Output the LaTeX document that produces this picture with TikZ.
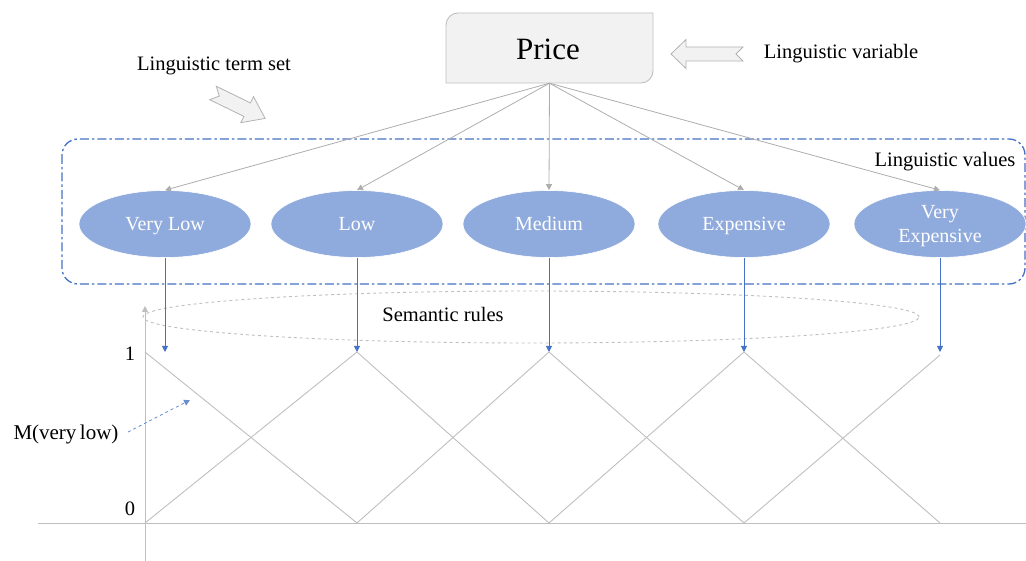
\documentclass[tikz,border=0pt]{standalone}
\usepackage{fontspec}
\setmainfont{Liberation Serif}
\usetikzlibrary{arrows.meta,shapes.geometric}
\definecolor{lgray}{HTML}{BFBFBF}
\definecolor{cgray}{HTML}{ADADAD}
\definecolor{boxfill}{HTML}{F2F2F2}
\definecolor{bblue}{HTML}{4472C4}
\definecolor{efill}{HTML}{8FAADC}
\tikzset{
  lbl/.style={font=\fontsize{20.5}{24}\selectfont, inner sep=0pt, anchor=base},
  valnode/.style={ellipse, fill=efill, draw=white, line width=0.6pt, minimum width=172pt, minimum height=67pt, inner sep=0pt, text=white, align=center, font=\fontsize{20}{24}\selectfont, text height=16pt, text depth=2pt},
  conn/.style={draw=cgray, line width=0.8pt, -{Triangle[length=6pt,width=6pt]}},
  bconn/.style={draw=bblue, line width=0.9pt, -{Triangle[length=6pt,width=6pt]}},
  curve/.style={draw=lgray, line width=0.9pt},
  blockarrow/.style={fill=boxfill, draw=lgray!80!gray, line width=0.8pt, line join=miter},
}
\begin{document}
\begin{tikzpicture}[x=1pt,y=-1pt]
\useasboundingbox (0,0) rectangle (1026,561);

% Price box (rounded top-left and bottom-right)
\node[minimum width=207pt, minimum height=70pt, inner sep=0pt] (price) at (549.5,48) {};
\filldraw[fill=boxfill, draw=lgray, line width=0.9pt]
  (446,83) -- (446,25) .. controls (446,18.4) and (451.4,13) .. (458,13)
  -- (653,13) -- (653,71) .. controls (653,77.6) and (647.6,83) .. (641,83) -- cycle;
\node[lbl, font=\fontsize{31}{36}\selectfont] (pricetxt) at (548,60) {Price};

% block arrow: linguistic variable
\filldraw[blockarrow] (671,54) -- (686,39.5) -- (686,47) -- (743,47) -- (736,54) -- (743,61) -- (686,61) -- (686,68.5) -- cycle;
\node[lbl] (lvar) at (841,59) {Linguistic variable};

% block arrow: linguistic term set
\begin{scope}[shift={(213,93)}, rotate=-26]
\filldraw[blockarrow] (0,-7.5) -- (38,-7.5) -- (38,-14.5) -- (58,0) -- (38,14.5) -- (38,7.5) -- (0,7.5) -- (7,0) -- cycle;
\end{scope}
\node[lbl] (lterm) at (214,71) {Linguistic term set};

% dash-dot frame
\draw[draw=bblue, line width=1.3pt, dash pattern=on 9pt off 3pt on 2.5pt off 3pt, rounded corners=16pt] (62,139) rectangle (1025,284);
\node[lbl] (lvals) at (945,167) {Linguistic values};

% linguistic values
\node[valnode] (vl) at (165,224) {Very Low};
\node[valnode] (lo) at (357,224) {Low};
\node[valnode] (me) at (549,224) {Medium};
\node[valnode] (ex) at (744,224) {Expensive};
\node[valnode, text height=40pt, text depth=2pt] (ve) at (940,224) {Very\\Expensive};

\foreach \n in {vl,lo,me,ex,ve} \draw[conn] (price.south) -- (\n.north);

% semantic rules ellipse
\node[ellipse, draw=lgray, dashed, line width=0.9pt, minimum width=776pt, minimum height=52pt, inner sep=0pt] (sem) at (531,317) {};
\node[lbl] (semtxt) at (443,322) {Semantic rules};

% axes
\coordinate (ytop) at (145,306);
\coordinate (ybot) at (145,561);
\coordinate (xl) at (38,523.5);
\coordinate (xr) at (1026,523.5);
\draw[draw=lgray, line width=0.9pt, -{Triangle[length=6pt,width=6pt]}] (ybot) -- (ytop);
\draw[curve] (xl) -- (xr);

% membership functions
\draw[curve] (145,352) -- (357,523) -- (549,352) -- (744,523) -- (940,355);
\draw[curve] (145,523) -- (357,352) -- (549,523) -- (744,352) -- (940,523);

% blue arrows to peaks
\coordinate (p1) at (165,352);
\coordinate (p2) at (357,352);
\coordinate (p3) at (549,352);
\coordinate (p4) at (744,352);
\coordinate (p5) at (940,352);
\draw[bconn] (vl.south) -- (p1);
\draw[bconn] (lo.south) -- (p2);
\draw[bconn] (me.south) -- (p3);
\draw[bconn] (ex.south) -- (p4);
\draw[bconn] (ve.south) -- (p5);

% labels
\node[lbl] (one) at (130,361) {1};
\node[lbl] (zero) at (130,515) {0};
\node[lbl, font=\fontsize{21}{24}\selectfont] (mvl) at (66,439) {M(very\,low)};
\coordinate (mtip) at (190,400);
\draw[draw=bblue!80, line width=0.8pt, dashed, -{Triangle[length=6pt,width=6pt]}] (128,432) -- (mtip);
\end{tikzpicture}
\end{document}
